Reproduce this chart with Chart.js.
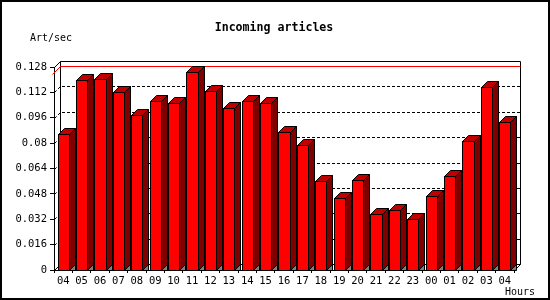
<!DOCTYPE html>
<html>
<head>
<meta charset="utf-8">
<script src="https://cdn.jsdelivr.net/npm/chart.js@4/dist/chart.umd.min.js"></script>
<style>
  body { margin: 0; background: #fff; }
  canvas { display: block; }
</style>
</head>
<body>
<canvas id="myChart" width="550" height="300"></canvas>
<script>
// hours on the x axis, articles per second per hour
const hours = ['04', '05', '06', '07', '08', '09', '10', '11', '12', '13', '14', '15', '16',
               '17', '18', '19', '20', '21', '22', '23', '00', '01', '02', '03', '04'];
const artPerSec = [0.0856, 0.1199, 0.1205, 0.1123, 0.0978, 0.1066, 0.1052, 0.1249, 0.1129,
                   0.1022, 0.1066, 0.1052, 0.0870, 0.0790, 0.0560, 0.0452, 0.0566, 0.0351,
                   0.0377, 0.0320, 0.0465, 0.0591, 0.0815, 0.1153, 0.0932];
const yTickValues = [0, 0.016, 0.032, 0.048, 0.064, 0.08, 0.096, 0.112, 0.128];
const yTickLabels = ['0', '0.016', '0.032', '0.048', '0.064', '0.08', '0.096', '0.112', '0.128'];

const depth = 6;
const mono = 'DejaVu Sans Mono';

// back wall, grid and the 3d faces of the bars
const threeD = {
  id: 'threeD',
  beforeDatasetsDraw(chart) {
    const ctx = chart.ctx;
    const { left, right, top, bottom } = chart.chartArea;
    const yScale = chart.scales.y;
    const L = Math.round(left) + 0.5, R = Math.round(right) + 0.5;
    const T = Math.round(top) + 0.5, B = Math.round(bottom) + 0.5;
    ctx.save();
    ctx.strokeStyle = '#000';
    ctx.lineWidth = 1;
    ctx.beginPath();
    ctx.moveTo(L, T); ctx.lineTo(L + depth, T - depth);
    ctx.lineTo(R + depth, T - depth); ctx.lineTo(R + depth, B - depth);
    ctx.lineTo(R, B);
    ctx.moveTo(L + depth, T - depth); ctx.lineTo(L + depth, B - depth);
    ctx.lineTo(R + depth, B - depth);
    ctx.moveTo(L, B); ctx.lineTo(L + depth, B - depth);
    ctx.stroke();

    // dotted grid on the back wall
    ctx.setLineDash([3, 2]);
    yTickValues.forEach(v => {
      if (v === 0 || v === yTickValues[yTickValues.length - 1]) return;
      const py = Math.round(yScale.getPixelForValue(v)) + 0.5;
      ctx.beginPath();
      ctx.moveTo(L, py);
      ctx.lineTo(L + depth, py - depth);
      ctx.lineTo(R + depth, py - depth);
      ctx.stroke();
    });
    ctx.setLineDash([]);

    // red line at the maximum
    const maxVal = Math.max(...artPerSec);
    const my = Math.round(yScale.getPixelForValue(maxVal)) + 0.5;
    ctx.strokeStyle = '#ff0000';
    ctx.beginPath();
    ctx.moveTo(L - 2, my + 2);
    ctx.lineTo(L + depth, my - depth);
    ctx.lineTo(R + depth, my - depth);
    ctx.stroke();
    ctx.restore();
  },
  afterDatasetsDraw(chart) {
    const ctx = chart.ctx;
    const meta = chart.getDatasetMeta(0);
    ctx.save();
    ctx.strokeStyle = '#000';
    ctx.lineWidth = 1;
    meta.data.forEach(bar => {
      const p = bar.getProps(['x', 'y', 'width', 'base'], true);
      const xl = Math.round(p.x - p.width / 2) + 0.5;
      const xr = Math.round(p.x + p.width / 2) + 0.5;
      const yt = Math.round(p.y) + 0.5;
      const yb = Math.round(p.base) + 0.5;
      // front
      ctx.fillStyle = '#ff0000';
      ctx.fillRect(xl, yt, xr - xl, yb - yt);
      ctx.strokeRect(xl, yt, xr - xl, yb - yt);
      // top
      ctx.beginPath();
      ctx.moveTo(xl, yt); ctx.lineTo(xl + depth, yt - depth);
      ctx.lineTo(xr + depth, yt - depth); ctx.lineTo(xr, yt);
      ctx.closePath();
      ctx.fillStyle = '#c00000';
      ctx.fill(); ctx.stroke();
      // side
      ctx.beginPath();
      ctx.moveTo(xr, yt); ctx.lineTo(xr + depth, yt - depth);
      ctx.lineTo(xr + depth, yb - depth); ctx.lineTo(xr, yb);
      ctx.closePath();
      ctx.fillStyle = '#800000';
      ctx.fill(); ctx.stroke();
      // shadow on the floor
      ctx.beginPath();
      ctx.moveTo(xr, yb); ctx.lineTo(xr + depth, yb - depth);
      ctx.lineTo(xr + depth, yb);
      ctx.closePath();
      ctx.fillStyle = '#808080';
      ctx.fill(); ctx.stroke();
    });
    ctx.restore();
  },
  afterDraw(chart) {
    const ctx = chart.ctx;
    ctx.save();
    ctx.fillStyle = '#000';
    ctx.textBaseline = 'middle';
    ctx.textAlign = 'center';
    ctx.font = 'bold 11.6px ' + mono;
    ctx.fillText('Incoming articles', 274, 28);
    ctx.textAlign = 'left';
    ctx.font = '10px ' + mono;
    ctx.fillText('Art/sec', 30, 38);
    ctx.fillText('Hours', 505, 292);
    ctx.lineWidth = 2;
    ctx.strokeStyle = '#000';
    ctx.strokeRect(1, 1, 548, 298);
    ctx.restore();
  }
};

function createGraph()
{
  const ctx = document.getElementById('myChart');

  new Chart(ctx, {
    type: 'bar',
    data: {
      labels: hours,
      datasets: [{
        label: 'Art/sec',
        data: artPerSec,
        backgroundColor: 'rgba(0,0,0,0)',
        borderWidth: 0,
        barPercentage: 0.6,
        categoryPercentage: 1
      }]
    },
    options: {
      responsive: false,
      animation: false,
      devicePixelRatio: 1,
      layout: { padding: { left: 0, right: 36, top: 67, bottom: 0 } },
      plugins: {
        legend: { display: false },
        tooltip: { enabled: false }
      },
      scales: {
        x: {
          afterFit(scale) { scale.height = 30; },
          grid: { offset: true, drawOnChartArea: false, tickLength: 3, color: '#000' },
          border: { color: '#000' },
          ticks: {
            color: '#000', font: { family: mono, size: 10.5 },
            maxRotation: 0, autoSkip: false, padding: 2
          }
        },
        y: {
          min: 0,
          max: 0.128,
          afterFit(scale) { scale.width = 54; },
          afterBuildTicks(scale) {
            scale.ticks = yTickValues.map(v => ({ value: v }));
          },
          grid: { drawOnChartArea: false, tickLength: 4, color: '#000' },
          border: { color: '#000' },
          ticks: {
            color: '#000', font: { family: mono, size: 10.5 }, padding: 3,
            callback: (value, index) => yTickLabels[index]
          }
        }
      }
    },
    plugins: [threeD]
  });
}

createGraph();
</script>
</body>
</html>
